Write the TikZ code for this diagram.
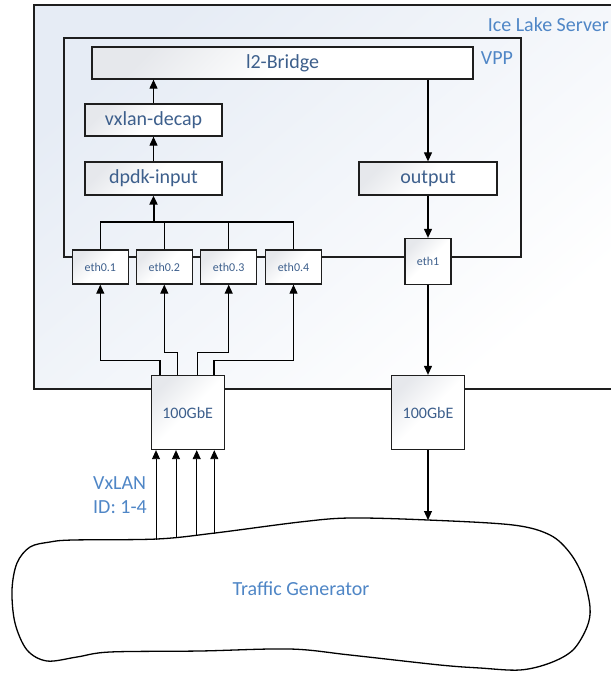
\documentclass[tikz,border=0pt]{standalone}
\usepackage{fontspec}
\setmainfont{Carlito}
\usetikzlibrary{arrows.meta,calc}
\definecolor{labeldark}{HTML}{3D5F8C}
\definecolor{labellight}{HTML}{4F86C6}
\definecolor{boxshade}{HTML}{E6E8EC}
\definecolor{servershade}{HTML}{E6ECF5}
\definecolor{edge}{HTML}{1E1E1E}
\begin{document}
\begin{tikzpicture}[x=1pt,y=-1pt,
  big/.style={font=\fontsize{20}{24}\selectfont},
  block/.style={draw=edge, line width=1.3pt, top color=boxshade, bottom color=white,
    middle color=white, shading angle=45, text=labeldark, big, inner sep=0pt},
  port/.style={block, font=\fontsize{12}{14}\selectfont},
  nic/.style={block, font=\fontsize{16}{19}\selectfont, minimum width=73pt, minimum height=74pt},
  frame/.style={draw=edge, line width=1.3pt},
  conn/.style={draw=black, line width=1.1pt},
  arr/.style={conn, -{Triangle[length=9pt,width=8pt]}},
  note/.style={text=labellight, big, inner sep=0pt}]
\useasboundingbox (0,0) rectangle (611,673);

% server enclosure (open to the right)
\shade[top color=servershade, bottom color=white, shading angle=40] (34,5) rectangle (611,389);
\draw[frame] (611,5) -- (34,5) -- (34,389) -- (611,389);
\node[note, anchor=east] (server) at (609,25) {Ice Lake Server};

% VPP frame
\coordinate (vppTL) at (64,38);
\coordinate (vppBR) at (521,257);
\draw[frame] (vppTL) rectangle (vppBR);
\node[note] (vpp) at (497,58) {VPP};

% graph nodes
\node[block, minimum width=381pt, minimum height=32pt] (l2) at (282.5,63) {l2-Bridge};
\node[block, minimum width=137pt, minimum height=32pt] (vxlan) at (153.5,120) {vxlan-decap};
\node[block, minimum width=137pt, minimum height=33pt] (dpdk) at (153.5,178.5) {dpdk-input};
\node[block, minimum width=138pt, minimum height=33pt] (output) at (428,178.5) {output};

% ports
\node[port, minimum width=56pt, minimum height=34pt] (eth01) at (100.3,267) {eth0.1};
\node[port, minimum width=56pt, minimum height=34pt] (eth02) at (164.3,267) {eth0.2};
\node[port, minimum width=56pt, minimum height=34pt] (eth03) at (228.7,267) {eth0.3};
\node[port, minimum width=56pt, minimum height=34pt] (eth04) at (293.5,267) {eth0.4};
\node[port, minimum width=46pt, minimum height=46pt] (eth1) at (428,261.5) {eth1};

% NICs
\node[nic] (nicA) at (187.7,412.5) {100GbE};
\node[nic] (nicB) at (428,412.5) {100GbE};

% traffic generator outline
\draw[line width=1.3pt, fill=white] plot[smooth cycle, tension=0.55] coordinates {
  (73,540) (157,539) (215,533) (300,522) (350,518) (428,520) (513,525)
  (550,535) (570,553) (583,577) (590,607) (587,627) (573,650) (550,663)
  (520,670) (480,668) (440,665) (350,655) (290,649) (200,651) (110,652)
  (77,657) (47,661) (27,650) (15,623) (12,590) (17,563) (30,547) (50,542)};
\node[note] (tgen) at (301,589) {Traffic Generator};

% VxLAN label
\node[note, anchor=west] (vxl) at (93,483) {VxLAN};
\node[note, anchor=west] (vid) at (93,507) {ID: 1-4};

% receive path inside VPP
\coordinate (bus) at (153.5,222);
\draw[conn] (eth01.north) |- (eth04.north |- bus) -- (eth04.north);
\draw[conn] (eth02.north) -- (eth02.north |- bus);
\draw[conn] (eth03.north) -- (eth03.north |- bus);
\draw[arr, line width=2pt] (bus) -- (dpdk.south);
\draw[arr] (dpdk.north) -- (vxlan.south);
\draw[arr] (vxlan.north) -- (vxlan.north |- l2.south);

% transmit path
\draw[arr] (output.north |- l2.south) -- (output.north);
\draw[arr] (output.south) -- (eth1.north);
\draw[arr] (eth1.south) -- (nicB.north);
\coordinate (tgin) at (428,520);
\draw[arr] (nicB.south) -- (tgin);

% NIC to VLAN sub-interfaces
\coordinate (in1) at ([xshift=-27.7pt]nicA.north);
\coordinate (in2) at ([xshift=-10.2pt]nicA.north);
\coordinate (in3) at ([xshift=9.8pt]nicA.north);
\coordinate (in4) at ([xshift=26.3pt]nicA.north);
\draw[arr] (in1) -- ++(0,-14) -| (eth01.south);
\draw[arr] (in2) -- ++(0,-22) -| (eth02.south);
\draw[arr] (in3) -- ++(0,-22) -| (eth03.south);
\draw[arr] (in4) -- ++(0,-14) -| (eth04.south);

% generator to NIC
\coordinate (tg1) at (156,539.5);
\coordinate (tg2) at (176,537.8);
\coordinate (tg3) at (196.7,535.8);
\coordinate (tg4) at (214.3,533.5);
\draw[arr, line width=0.9pt] (tg1) -- (tg1 |- nicA.south);
\draw[arr, line width=0.9pt] (tg2) -- (tg2 |- nicA.south);
\draw[arr, line width=0.9pt] (tg3) -- (tg3 |- nicA.south);
\draw[arr, line width=0.9pt] (tg4) -- (tg4 |- nicA.south);
\end{tikzpicture}
\end{document}
